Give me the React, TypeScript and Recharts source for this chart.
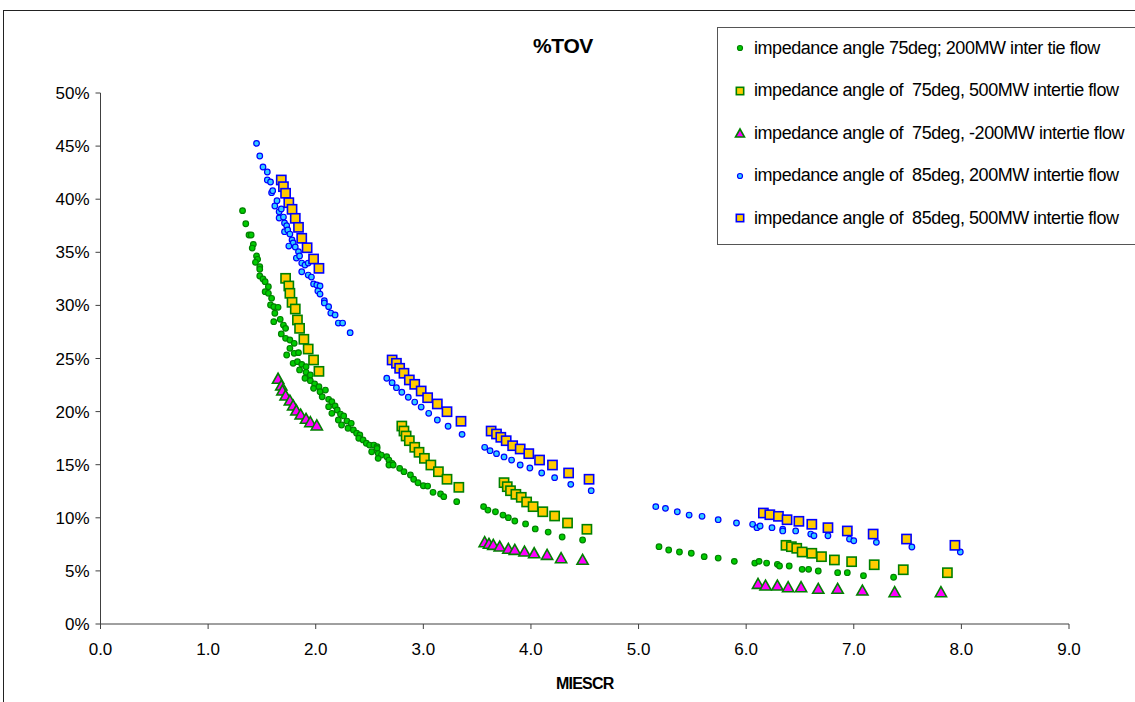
import React from "react";
import { ScatterChart, Scatter, XAxis, YAxis, Label } from "recharts";

// MIESCR, %TOV pairs
const ang75Mw200: [number, number][] = [
  [1.32, 38.92], [1.35, 37.69], [1.38, 36.63], [1.4, 36.63], [1.42, 35.75], [1.41, 35.4],
  [1.45, 34.65], [1.46, 34.34], [1.44, 34.06], [1.48, 33.64], [1.48, 33.4], [1.48, 32.77],
  [1.51, 32.49], [1.53, 32.23], [1.56, 31.76], [1.53, 31.29], [1.56, 31.14], [1.59, 30.67],
  [1.58, 30.04], [1.61, 29.88], [1.65, 29.82], [1.62, 29.26], [1.61, 28.47], [1.67, 28.69],
  [1.7, 28.15], [1.72, 27.84], [1.68, 27.31], [1.72, 26.9], [1.76, 26.74], [1.8, 26.43],
  [1.76, 25.96], [1.73, 25.33], [1.8, 25.49], [1.84, 25.55], [1.79, 24.55], [1.83, 24.7],
  [1.87, 24.45], [1.91, 24.23], [1.85, 23.92], [1.91, 23.7], [1.95, 23.45], [1.9, 23.14],
  [1.95, 22.91], [1.99, 22.6], [2.03, 22.34], [1.98, 22.19], [2.04, 21.87], [2.09, 22.03],
  [2.06, 21.4], [2.12, 21.16], [2.15, 20.93], [2.12, 20.46], [2.18, 20.53], [2.2, 20.15],
  [2.15, 19.84], [2.23, 19.77], [2.26, 19.59], [2.21, 19.21], [2.29, 19.11], [2.24, 18.74],
  [2.33, 18.9], [2.3, 18.43], [2.35, 18.27], [2.38, 17.96], [2.41, 17.8], [2.4, 17.49],
  [2.44, 17.33], [2.47, 17.02], [2.5, 16.85], [2.54, 16.85], [2.57, 16.69], [2.57, 16.54],
  [2.52, 16.22], [2.58, 16.07], [2.61, 15.91], [2.58, 15.6], [2.66, 15.75], [2.68, 15.44],
  [2.71, 15.13], [2.68, 14.97], [2.72, 14.97], [2.78, 14.66], [2.82, 14.34], [2.88, 14.03],
  [2.91, 13.63], [2.95, 13.3], [3.0, 13.02], [3.04, 12.99], [3.09, 12.4], [3.16, 12.24],
  [3.19, 11.99], [3.31, 11.52],
  [3.56, 11.05], [3.6, 10.73], [3.67, 10.57], [3.74, 10.26], [3.79, 10.01], [3.85, 9.7],
  [3.95, 9.42], [4.04, 8.95], [4.16, 8.66], [4.29, 8.19], [4.48, 7.91],
  [5.19, 7.28], [5.28, 6.97], [5.38, 6.78], [5.49, 6.66], [5.61, 6.34], [5.74, 6.21],
  [5.89, 5.9], [6.08, 5.74], [6.12, 5.9], [6.19, 5.74], [6.29, 5.62], [6.31, 5.46],
  [6.4, 5.46], [6.52, 5.15], [6.58, 5.15], [6.67, 4.99], [6.85, 4.83], [6.94, 4.83],
  [7.09, 4.55], [7.37, 4.4],
];

const ang75Mw500: [number, number][] = [
  [1.72, 32.55], [1.75, 31.83], [1.76, 31.14], [1.78, 30.29], [1.81, 29.66], [1.83, 28.63],
  [1.85, 27.84], [1.89, 26.81], [1.93, 25.89], [1.98, 24.86], [2.03, 23.79],
  [2.8, 18.64], [2.82, 18.17], [2.84, 17.7], [2.87, 17.26], [2.92, 16.64], [2.96, 16.17],
  [3.01, 15.6], [3.07, 14.97], [3.14, 14.34], [3.22, 13.63], [3.33, 12.87],
  [3.75, 13.31], [3.78, 12.93], [3.81, 12.55], [3.86, 12.21], [3.91, 11.93], [3.96, 11.49],
  [4.02, 11.05], [4.11, 10.57], [4.22, 10.17], [4.34, 9.51], [4.52, 8.92],
  [6.37, 7.41], [6.42, 7.28], [6.47, 7.13], [6.52, 6.78], [6.61, 6.66], [6.7, 6.34],
  [6.82, 6.03], [6.98, 5.87], [7.19, 5.58], [7.46, 5.11], [7.87, 4.83],
];

const ang75MwNeg200: [number, number][] = [
  [1.65, 23.14], [1.68, 22.5], [1.69, 22.03], [1.72, 21.56], [1.76, 21.09], [1.79, 20.62],
  [1.82, 20.15], [1.86, 19.77], [1.91, 19.37], [1.95, 19.05], [2.01, 18.74],
  [3.57, 7.75], [3.61, 7.6], [3.65, 7.5], [3.71, 7.34], [3.79, 7.13], [3.85, 7.03],
  [3.94, 6.87], [4.03, 6.71], [4.15, 6.56], [4.28, 6.24], [4.48, 6.09],
  [6.11, 3.83], [6.18, 3.67], [6.29, 3.67], [6.39, 3.51], [6.51, 3.51], [6.67, 3.36],
  [6.85, 3.36], [7.08, 3.2], [7.38, 3.04], [7.81, 3.04],
];

const ang85Mw200: [number, number][] = [
  [1.45, 45.26], [1.48, 44.07], [1.51, 43.03], [1.55, 42.56], [1.55, 41.81], [1.58, 41.62],
  [1.59, 40.61], [1.6, 40.8], [1.62, 39.36], [1.64, 39.86], [1.66, 38.82], [1.68, 39.08],
  [1.66, 38.23], [1.7, 38.32], [1.71, 37.76], [1.73, 37.5], [1.71, 36.94], [1.74, 37.1],
  [1.76, 36.72], [1.78, 36.16], [1.79, 35.88], [1.75, 35.59], [1.81, 35.5], [1.84, 35.06],
  [1.82, 34.46], [1.85, 34.65], [1.87, 33.99], [1.9, 33.8], [1.93, 33.99], [1.87, 33.17],
  [1.93, 32.86], [1.96, 32.67], [1.98, 32.02], [2.01, 31.92], [2.04, 31.83], [2.02, 31.36],
  [2.04, 31.07], [2.08, 30.44], [2.08, 30.23], [2.12, 29.88], [2.14, 29.28], [2.18, 29.1],
  [2.21, 28.34], [2.25, 28.34], [2.32, 27.43],
  [2.66, 23.14], [2.71, 22.72], [2.75, 22.25], [2.8, 21.82], [2.86, 21.35], [2.92, 20.9],
  [2.98, 20.43], [3.05, 19.84], [3.13, 19.21], [3.23, 18.62], [3.36, 17.86],
  [3.57, 16.64], [3.62, 16.32], [3.68, 16.04], [3.75, 15.73], [3.82, 15.44], [3.9, 14.97],
  [3.99, 14.69], [4.1, 14.22], [4.22, 13.78], [4.37, 13.15], [4.56, 12.55],
  [5.16, 11.05], [5.25, 10.89], [5.36, 10.57], [5.47, 10.26], [5.59, 10.14], [5.74, 9.82],
  [5.91, 9.51], [6.06, 9.39], [6.1, 9.07], [6.13, 9.23], [6.24, 9.07], [6.34, 8.92],
  [6.34, 8.76], [6.46, 8.76], [6.6, 8.47], [6.63, 8.31], [6.76, 8.31], [6.96, 8.0],
  [7.0, 7.84], [7.21, 7.69], [7.54, 7.25], [7.99, 6.78],
];

const ang85Mw500: [number, number][] = [
  [1.68, 41.81], [1.7, 41.18], [1.72, 40.56], [1.75, 39.67], [1.78, 39.05], [1.81, 38.2],
  [1.84, 37.35], [1.87, 36.32], [1.92, 35.43], [1.98, 34.37], [2.03, 33.49],
  [2.71, 24.86], [2.75, 24.55], [2.78, 24.08], [2.82, 23.61], [2.87, 22.98], [2.92, 22.57],
  [2.98, 21.94], [3.04, 21.31], [3.13, 20.72], [3.22, 19.99], [3.35, 19.09],
  [3.63, 18.17], [3.68, 17.89], [3.72, 17.58], [3.77, 17.26], [3.83, 16.79], [3.9, 16.48],
  [3.98, 16.04], [4.08, 15.44], [4.2, 14.97], [4.35, 14.22], [4.54, 13.63],
  [6.16, 10.45], [6.22, 10.29], [6.3, 10.14], [6.38, 9.82], [6.49, 9.67], [6.61, 9.39],
  [6.76, 9.07], [6.94, 8.76], [7.18, 8.47], [7.49, 8.0], [7.94, 7.41],
];

const xTicks = [0, 1, 2, 3, 4, 5, 6, 7, 8, 9];
const yTicks = [0, 5, 10, 15, 20, 25, 30, 35, 40, 45, 50];

const toRows = (pts: [number, number][]) => pts.map(([x, y]) => ({ x, y }));

const FONT = "Arial, 'Liberation Sans', sans-serif";

type Marker = "circle" | "square" | "triangle";

interface SeriesDef {
  name: string;
  data: [number, number][];
  marker: Marker;
  fill: string;
  stroke: string;
}

const SERIES: SeriesDef[] = [
  { name: "impedance angle 75deg; 200MW inter tie flow", data: ang75Mw200, marker: "circle", fill: "#00cc00", stroke: "#008000" },
  { name: "impedance angle of  75deg, 500MW intertie flow", data: ang75Mw500, marker: "square", fill: "#ffcc00", stroke: "#008000" },
  { name: "impedance angle of  75deg, -200MW intertie flow", data: ang75MwNeg200, marker: "triangle", fill: "#ff00ff", stroke: "#008000" },
  { name: "impedance angle of  85deg, 200MW intertie flow", data: ang85Mw200, marker: "circle", fill: "#33ccff", stroke: "#0000ff" },
  { name: "impedance angle of  85deg, 500MW intertie flow", data: ang85Mw500, marker: "square", fill: "#ffcc00", stroke: "#0000ff" },
];

function MarkerGlyph({ kind, cx, cy, fill, stroke, scale = 1 }: { kind: Marker; cx: number; cy: number; fill: string; stroke: string; scale?: number }) {
  if (kind === "circle") {
    return <circle cx={cx} cy={cy} r={2.8 * scale} fill={fill} stroke={stroke} strokeWidth={1.2} />;
  }
  if (kind === "square") {
    const h = 4.6 * scale;
    return <rect x={cx - h} y={cy - h} width={h * 2} height={h * 2} fill={fill} stroke={stroke} strokeWidth={1.6} />;
  }
  const w = 5.6 * scale;
  const ht = 10 * scale;
  return (
    <polygon
      points={`${cx},${cy - ht / 2} ${cx + w},${cy + ht / 2} ${cx - w},${cy + ht / 2}`}
      fill={fill}
      stroke={stroke}
      strokeWidth={1.6}
      strokeLinejoin="miter"
    />
  );
}

const makeShape = (s: SeriesDef) => (props: any) => {
  if (props.cx == null || props.cy == null) return <g />;
  return <MarkerGlyph kind={s.marker} cx={props.cx} cy={props.cy} fill={s.fill} stroke={s.stroke} />;
};

function ChartLegend() {
  return (
    <div
      style={{
        position: "absolute",
        left: 717,
        top: 27,
        width: 440,
        height: 216,
        border: "1px solid #555",
        background: "#fff",
        fontFamily: FONT,
        fontSize: 18,
        color: "#000",
        letterSpacing: -0.45,
      }}
    >
      {SERIES.map((s, i) => (
        <div
          key={s.name}
          style={{ position: "absolute", left: 14, top: 9 + i * 42.6, height: 22, display: "flex", alignItems: "center", whiteSpace: "pre" }}
        >
          <svg width={16} height={16} style={{ marginRight: 6 }}>
            <MarkerGlyph kind={s.marker} cx={8} cy={8} fill={s.fill} stroke={s.stroke} scale={s.marker === "circle" ? 0.9 : 0.8} />
          </svg>
          <span>{s.name}</span>
        </div>
      ))}
    </div>
  );
}

export default function App() {
  const tickStyle = { fill: "#000", fontSize: 17, fontFamily: FONT };
  return (
    <div style={{ position: "absolute", left: 0, top: 0, width: 1135, height: 702, overflow: "hidden", background: "#fff" }}>
      {/* outer chart frame */}
      <div style={{ position: "absolute", left: 3, top: 10, width: 1200, height: 800, border: "1px solid #222" }} />
      <div
        style={{
          position: "absolute",
          left: 463,
          top: 34,
          width: 200,
          textAlign: "center",
          fontFamily: FONT,
          fontWeight: "bold",
          fontSize: 21,
          letterSpacing: -0.4,
        }}
      >
        %TOV
      </div>
      <div style={{ position: "absolute", left: 0, top: 0 }}>
        <ScatterChart width={1135} height={702} margin={{ top: 93, right: 66, bottom: 48, left: 40 }}>
          <XAxis
            type="number"
            dataKey="x"
            domain={[0, 9]}
            ticks={xTicks}
            allowDataOverflow
            tickFormatter={(v: number) => v.toFixed(1)}
            tick={tickStyle}
            tickSize={5}
            tickMargin={14}
            height={30}
            axisLine={{ stroke: "#404040" }}
            tickLine={{ stroke: "#404040" }}
          >
            <Label
              value="MIESCR"
              position="bottom"
              offset={24}
              style={{ fontFamily: FONT, fontWeight: "bold", fontSize: 16, fill: "#000", letterSpacing: -0.8 }}
            />
          </XAxis>
          <YAxis
            type="number"
            dataKey="y"
            domain={[0, 50]}
            ticks={yTicks}
            allowDataOverflow
            tickFormatter={(v: number) => `${v}%`}
            tick={tickStyle}
            tickSize={5}
            tickMargin={6}
            width={60.5}
            axisLine={{ stroke: "#404040" }}
            tickLine={{ stroke: "#404040" }}
          />
          {SERIES.map((s) => (
            <Scatter
              key={s.name}
              name={s.name}
              data={toRows(s.data)}
              shape={makeShape(s)}
              isAnimationActive={false}
            />
          ))}
        </ScatterChart>
      </div>
      <ChartLegend />
    </div>
  );
}
